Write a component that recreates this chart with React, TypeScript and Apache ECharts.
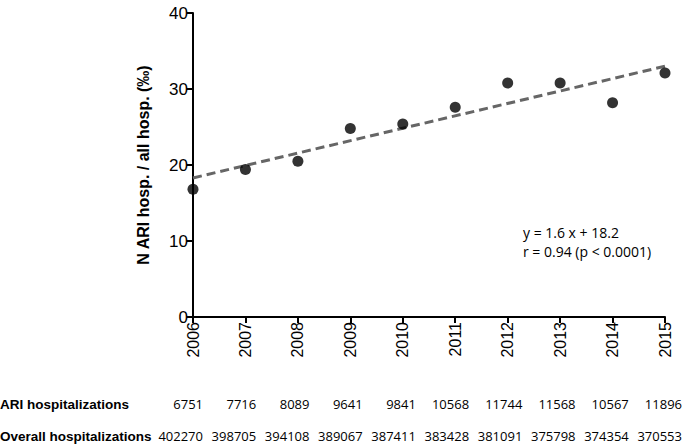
import React, { useEffect, useRef } from "react";
import * as echarts from "echarts";

const years = [2006, 2007, 2008, 2009, 2010, 2011, 2012, 2013, 2014, 2015];
const ratio = [16.8, 19.4, 20.5, 24.8, 25.4, 27.6, 30.8, 30.8, 28.2, 32.1];
const trendYears = [2006, 2015];
const trendValues = [18.3, 33.0];
const ariCounts = ["6751", "7716", "8089", "9641", "9841", "10568", "11744", "11568", "10567", "11896"];
const overallCounts = ["402270", "398705", "394108", "389067", "387411", "383428", "381091", "375798", "374354", "370553"];
const yTicks = [0, 10, 20, 30, 40];
const annotationLines = ["y = 1.6 x + 18.2", "r = 0.94 (p < 0.0001)"];

const ARIAL = "Liberation Sans, Arial, sans-serif";
const BODY = "Open Sans, sans-serif";

export default function App() {
  const ref = useRef<HTMLDivElement>(null);
  useEffect(() => {
    if (!ref.current) return;
    const chart = echarts.init(ref.current, undefined, { renderer: "svg" });
    const tableAxis = (gridIndex: number, labels: string[]) => ({
      type: "value",
      gridIndex,
      min: 0,
      max: 9,
      interval: 1,
      axisLine: { show: false },
      axisTick: { show: false },
      splitLine: { show: false },
      axisLabel: {
        margin: 0,
        align: "right",
        fontFamily: BODY,
        fontSize: 13,
        color: "#000",
        formatter: (v: number) => labels[v] ?? "",
      },
    });
    chart.setOption({
      animation: false,
      textStyle: { fontFamily: ARIAL },
      grid: [
        { left: 193, right: 20, top: 13, bottom: 130 },
        { left: 203, right: 3, top: 396, height: 1 },
        { left: 203, right: 3, top: 428, height: 1 },
      ],
      xAxis: [
        {
          type: "value",
          gridIndex: 0,
          min: 2006,
          max: 2015,
          interval: 1,
          axisLine: { show: true, lineStyle: { color: "#000", width: 2 } },
          axisTick: { show: true, length: 6, lineStyle: { color: "#000", width: 2 } },
          splitLine: { show: false },
          axisLabel: {
            rotate: 90,
            margin: 5,
            fontFamily: ARIAL,
            fontSize: 16,
            color: "#000",
            formatter: (v: number) => String(v),
          },
        },
        tableAxis(1, ariCounts),
        tableAxis(2, overallCounts),
      ],
      yAxis: [
        {
          type: "value",
          gridIndex: 0,
          min: yTicks[0],
          max: yTicks[yTicks.length - 1],
          interval: 10,
          axisLine: { show: true, lineStyle: { color: "#000", width: 2 } },
          axisTick: { show: true, length: 6, lineStyle: { color: "#000", width: 2 } },
          splitLine: { show: false },
          axisLabel: { fontFamily: ARIAL, fontSize: 17, color: "#000", margin: 5 },
          name: "N ARI hosp. / all hosp. (‰)",
          nameLocation: "middle",
          nameGap: 42,
          nameTextStyle: { fontFamily: ARIAL, fontSize: 16, fontWeight: "bold", color: "#000" },
        },
        { type: "value", gridIndex: 1, show: false },
        { type: "value", gridIndex: 2, show: false },
      ],
      series: [
        {
          type: "line",
          xAxisIndex: 0,
          yAxisIndex: 0,
          data: trendYears.map((y, i) => [y, trendValues[i]]),
          symbol: "none",
          lineStyle: { color: "#666", width: 3, type: [9, 5] },
          z: 1,
        },
        {
          type: "scatter",
          xAxisIndex: 0,
          yAxisIndex: 0,
          data: years.map((y, i) => [y, ratio[i]]),
          symbolSize: 11,
          itemStyle: { color: "#000" },
          z: 2,
        },
      ],
      graphic: [
        {
          type: "text",
          left: 523,
          top: 225,
          style: { text: annotationLines[0], fontFamily: BODY, fontSize: 14, fill: "#000" },
        },
        {
          type: "text",
          left: 523,
          top: 244,
          style: { text: annotationLines[1], fontFamily: BODY, fontSize: 14, fill: "#000" },
        },
        {
          type: "text",
          left: 0,
          top: 397,
          style: { text: "ARI hospitalizations", fontFamily: ARIAL, fontSize: 13.5, fontWeight: "bold", fill: "#000" },
        },
        {
          type: "text",
          left: 0,
          top: 429,
          style: { text: "Overall hospitalizations", fontFamily: ARIAL, fontSize: 13.5, fontWeight: "bold", fill: "#000" },
        },
      ],
    });
    return () => chart.dispose();
  }, []);
  return (
    <div
      ref={ref}
      style={{ position: "fixed", left: 0, top: 0, width: 685, height: 447, background: "#fff" }}
    />
  );
}
